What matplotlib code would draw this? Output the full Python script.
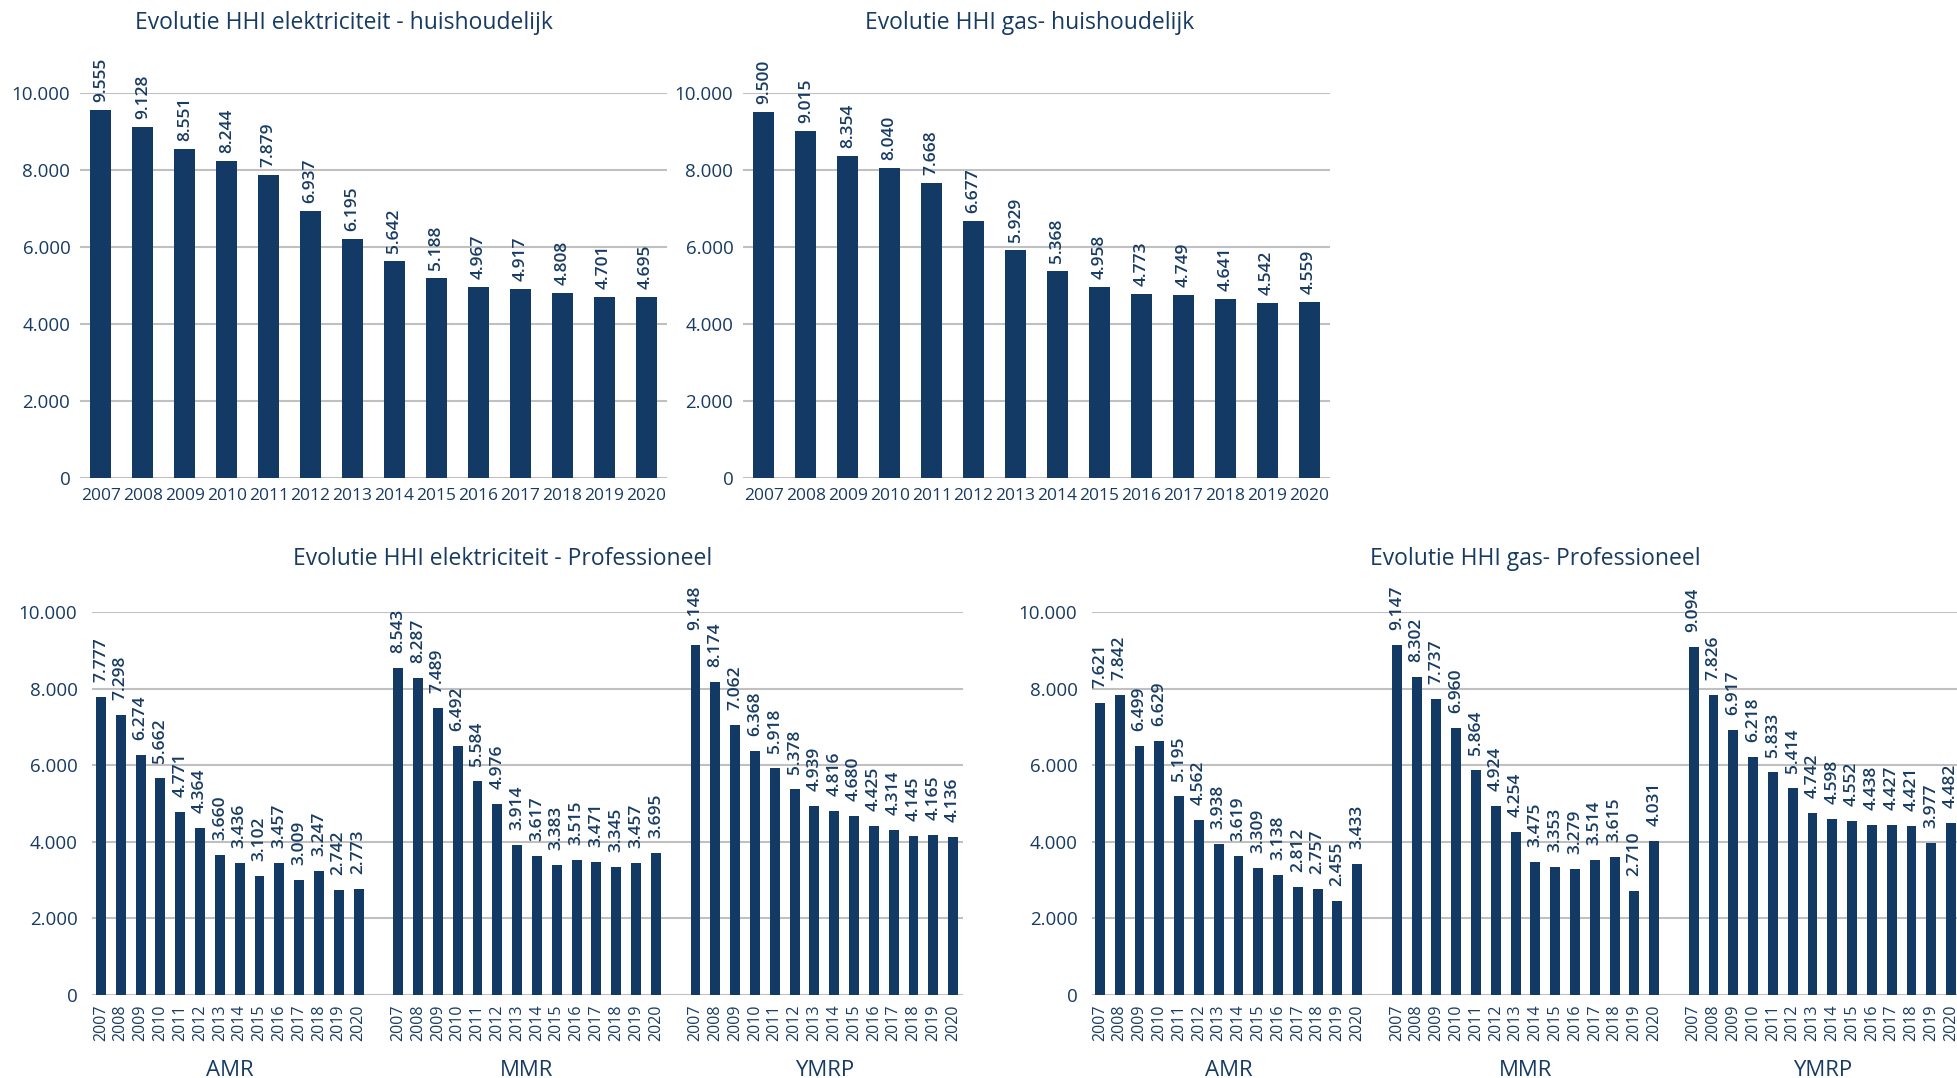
import numpy as np
import matplotlib
matplotlib.use("Agg")
import matplotlib.pyplot as plt
from matplotlib import transforms
from matplotlib.ticker import FuncFormatter

plt.rcParams['font.family'] = ['Open Sans', 'DejaVu Sans']

years = [str(y) for y in range(2007, 2021)]
regions = ["AMR", "MMR", "YMRP"]

elec_hh = [9555, 9128, 8551, 8244, 7879, 6937, 6195, 5642, 5188, 4967, 4917, 4808, 4701, 4695]
gas_hh = [9500, 9015, 8354, 8040, 7668, 6677, 5929, 5368, 4958, 4773, 4749, 4641, 4542, 4559]

elec_pro_amr = [7777, 7298, 6274, 5662, 4771, 4364, 3660, 3436, 3102, 3457, 3009, 3247, 2742, 2773]
elec_pro_mmr = [8543, 8287, 7489, 6492, 5584, 4976, 3914, 3617, 3383, 3515, 3471, 3345, 3457, 3695]
elec_pro_ymrp = [9148, 8174, 7062, 6368, 5918, 5378, 4939, 4816, 4680, 4425, 4314, 4145, 4165, 4136]

gas_pro_amr = [7621, 7842, 6499, 6629, 5195, 4562, 3938, 3619, 3309, 3138, 2812, 2757, 2455, 3433]
gas_pro_mmr = [9147, 8302, 7737, 6960, 5864, 4924, 4254, 3475, 3353, 3279, 3514, 3615, 2710, 4031]
gas_pro_ymrp = [9094, 7826, 6917, 6218, 5833, 5414, 4742, 4598, 4552, 4438, 4427, 4421, 3977, 4482]

NAVY = '#133A64'
TXT = '#173B63'
GRID = '#C0C0C0'

W, H = 1957, 1078
fig = plt.figure(figsize=(W / 100, H / 100), dpi=100)


def dutch(v):
    return f"{int(round(v)):,}".replace(",", ".")


def px_axes(x0, x1, y_top, y_bot):
    return fig.add_axes([x0 / W, 1 - y_bot / H, (x1 - x0) / W, (y_bot - y_top) / H])


def style(ax, pad):
    ax.set_ylim(0, 10000)
    ax.set_yticks(np.arange(0, 10001, 2000))
    ax.yaxis.set_major_formatter(FuncFormatter(lambda v, p: dutch(v)))
    ax.grid(axis='y', color=GRID, lw=1.5)
    ax.set_axisbelow(True)
    for s in ax.spines.values():
        s.set_visible(False)
    ax.tick_params(length=0, colors=TXT)
    ax.tick_params(axis='y', labelsize=13.5, pad=pad)


def value_labels(ax, xs, vals, gap):
    for x, v in zip(xs, vals):
        ax.annotate(dutch(v), (x, v), xytext=(0, gap), textcoords='offset pixels',
                    rotation=90, ha='center', va='bottom', fontsize=12.5,
                    fontweight='semibold', color=TXT, clip_on=False)


def household(ax, vals):
    x = np.arange(len(years))
    ax.bar(x, vals, width=0.5, color=NAVY)
    ax.set_xlim(-0.5, 13.5)
    style(ax, 7)
    ax.set_xticks(x)
    ax.set_xticklabels(years, fontsize=12.5)
    ax.tick_params(axis='x', pad=7)
    value_labels(ax, x, vals, 8)


def professional(ax, groups, xlim):
    xs_all, lab_all = [], []
    tr = transforms.blended_transform_factory(ax.transData, fig.transFigure)
    for g, vals in enumerate(groups):
        x = np.arange(len(years)) + g * (len(years) + 1)
        ax.bar(x, vals, width=0.5, color=NAVY)
        value_labels(ax, x, vals, 15)
        xs_all.extend(x)
        lab_all.extend(years)
        ax.text(x.mean(), 1 - 1060 / H, regions[g], transform=tr, ha='center', va='top',
                fontsize=16, color=TXT)
    ax.set_xlim(*xlim)
    style(ax, 10.5)
    ax.set_xticks(xs_all)
    ax.set_xticklabels(lab_all, rotation=90, fontsize=11.5)
    ax.tick_params(axis='x', pad=7)


ax1 = px_axes(80, 667, 93, 478)
household(ax1, elec_hh)
ax2 = px_axes(743, 1330, 93, 478)
household(ax2, gas_hh)
ax3 = px_axes(92, 963, 612, 995)
professional(ax3, [elec_pro_amr, elec_pro_mmr, elec_pro_ymrp], (-0.45, 43.5))
ax4 = px_axes(1092, 1957, 612, 995)
professional(ax4, [gas_pro_amr, gas_pro_mmr, gas_pro_ymrp], (-0.4, 43.3))

title_kw = dict(ha='center', va='center', fontsize=16.5, color=TXT)
fig.text(344 / W, 1 - 23 / H, "Evolutie HHI elektriciteit - huishoudelijk", **title_kw)
fig.text(1030 / W, 1 - 23 / H, "Evolutie HHI gas- huishoudelijk", **title_kw)
fig.text(503 / W, 1 - 559 / H, "Evolutie HHI elektriciteit - Professioneel", **title_kw)
fig.text(1535 / W, 1 - 559 / H, "Evolutie HHI gas- Professioneel", **title_kw)

fig.savefig("out.png", dpi=100)
